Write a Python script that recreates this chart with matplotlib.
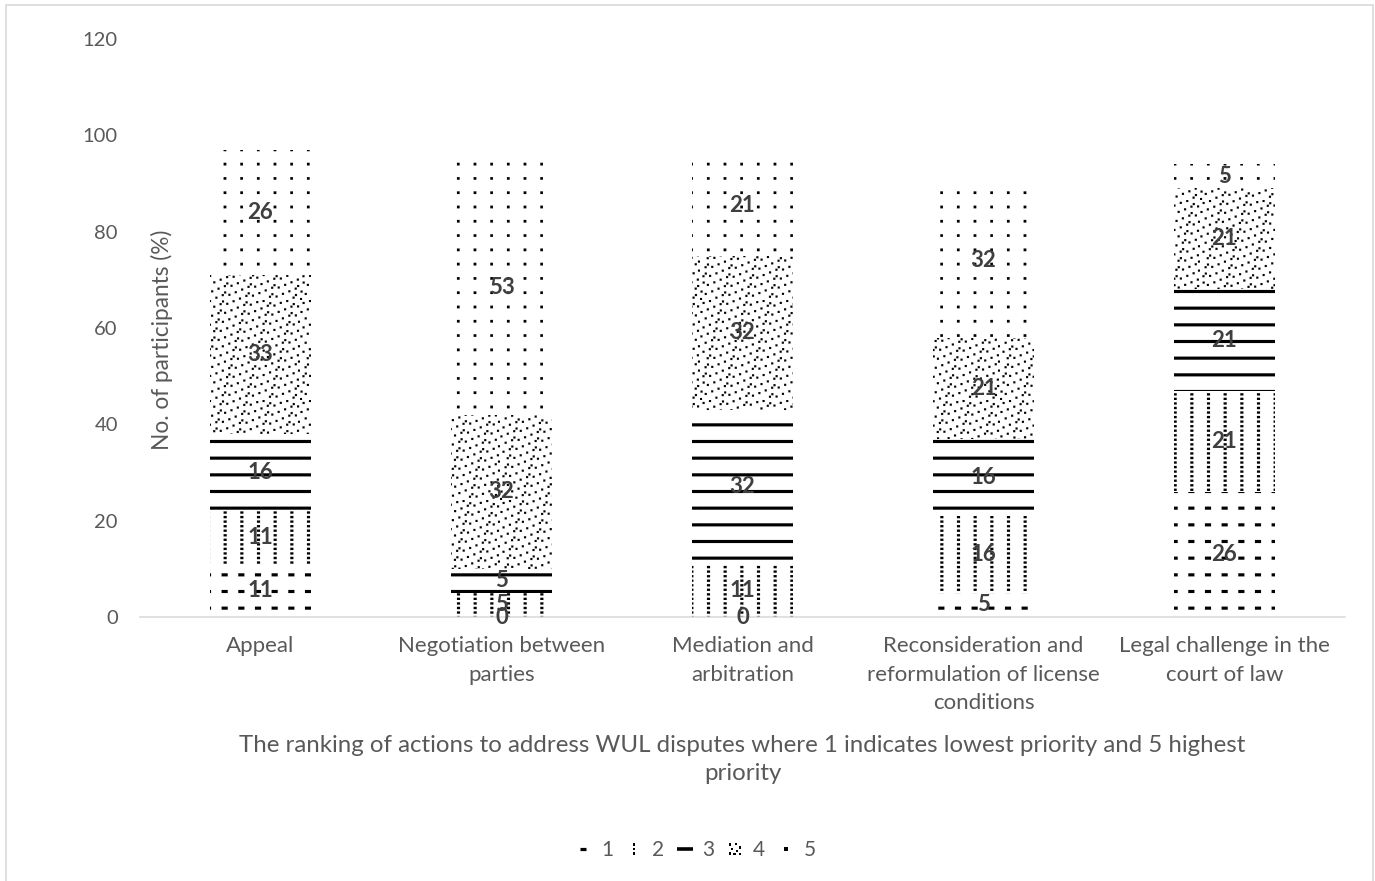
import warnings
import numpy as np
import matplotlib
matplotlib.use("Agg")
import matplotlib.pyplot as plt
import matplotlib.hatch as mhatch
from matplotlib.path import Path
from matplotlib.patches import Rectangle
from matplotlib.lines import Line2D

warnings.filterwarnings("ignore")

# ---------------------------------------------------------------- data
categories = [
    "Appeal",
    "Negotiation between\nparties",
    "Mediation and\narbitration",
    "Reconsideration and\nreformulation of license\nconditions",
    "Legal challenge in the\ncourt of law",
]
series_names = ["1", "2", "3", "4", "5"]
rank_1 = [11, 0, 0, 5, 26]
rank_2 = [11, 5, 11, 16, 21]
rank_3 = [16, 5, 32, 16, 21]
rank_4 = [33, 32, 32, 21, 21]
rank_5 = [26, 53, 21, 32, 5]
y_ticks = [0, 20, 40, 60, 80, 100, 120]

y_label = "No. of participants (%)"
x_title = ("The ranking of actions to address WUL disputes where 1 indicates lowest priority and 5 highest\n"
           "priority")

# ---------------------------------------------------------------- fill patterns
DPI = 100
CELL = float(DPI)          # one hatch tile is one inch = DPI pixels


def _square_codes(n):
    return np.tile([Path.MOVETO, Path.LINETO, Path.LINETO, Path.LINETO,
                    Path.CLOSEPOLY], n)


class _Motif(mhatch.HatchPatternBase):
    """A hatch made of small filled rectangles, given in tile pixels."""
    key = None
    rects = ()

    def __init__(self, hatch, density):
        self.num_vertices = 5 * len(self.rects) if (hatch and self.key in hatch) else 0

    def set_vertices_and_codes(self, vertices, codes):
        pts = []
        for x, y, w, h in self.rects:
            pts += [(x, y), (x + w, y), (x + w, y + h), (x, y + h), (x, y)]
        vertices[:] = np.asarray(pts, float) / CELL
        codes[:] = _square_codes(len(self.rects))


def register_motif(key, rects):
    cls = type(f"Motif_{key}", (_Motif,), {"key": key, "rects": tuple(rects)})
    mhatch._hatch_types.append(cls)


pitch6 = [i * CELL / 6 for i in range(6)]

# 1: short horizontal dashes
register_motif("a", [(x + 5, y + 7, 6, 3) for x in pitch6 for y in pitch6])
# 2: columns of fine dots
register_motif("b", [(x + 7, k * CELL / 22, 3, 2.2) for x in pitch6 for k in range(22)])
# 3: thick horizontal lines
register_motif("c", [(0, y + 7, CELL, 3) for y in pitch6])
# 4: confetti stipple on a periodic Fibonacci lattice with small offsets
stipple = []
n_pts, step = 233, 144
for i in range(n_pts):
    px = i * CELL / n_pts
    py = ((i * step) % n_pts) * CELL / n_pts
    px += ((i * 7) % 5 - 2) * 0.8
    py += ((i * 3) % 5 - 2) * 0.8
    stipple.append((min(max(px, 0), CELL - 2.0), min(max(py, 0), CELL - 2.0), 2.0, 2.0))
register_motif("d", stipple)
# 5: sparse dot grid
register_motif("e", [(x + 7, j * CELL / 7 + 6, 2.6, 2.6) for x in pitch6 for j in range(7)])

hatches = ["a", "b", "c", "d", "e"]

plt.rcParams["hatch.linewidth"] = 0.1
plt.rcParams["hatch.color"] = "black"
plt.rcParams["font.family"] = ["Lato", "DejaVu Sans"]

GREY = "#595959"
LABEL = "#3F3F3F"

# ---------------------------------------------------------------- figure
fig = plt.figure(figsize=(13.75, 8.81), dpi=DPI)
ax = fig.add_axes([140 / 1375, 1 - 617 / 881, 1205 / 1375, 578 / 881])

x = np.arange(len(categories))
series = [rank_1, rank_2, rank_3, rank_4, rank_5]
bottom = np.zeros(len(categories))
containers = []
for name, vals, h in zip(series_names, series, hatches):
    bc = ax.bar(x, vals, width=0.415, bottom=bottom, color="white",
                edgecolor="black", linewidth=0, hatch=h, label=name)
    containers.append(bc)
    bottom = bottom + np.asarray(vals, float)

for bc in containers:
    ax.bar_label(bc, label_type="center", fontsize=16, fontweight="bold",
                 color=LABEL)

ax.set_xlim(-0.5, len(categories) - 0.5)
ax.set_ylim(0, 120)
ax.set_yticks(y_ticks)
ax.set_xticks(x)
ax.set_xticklabels(categories, linespacing=1.53, fontsize=16)
ax.tick_params(axis="both", length=0, labelcolor=GREY)
ax.tick_params(axis="y", pad=16, labelsize=14.5)
ax.tick_params(axis="x", pad=14)

for side in ("top", "right", "left"):
    ax.spines[side].set_visible(False)
ax.spines["bottom"].set_color("#D9D9D9")
ax.spines["bottom"].set_linewidth(1.1)

ax.set_ylabel(y_label, fontsize=16.3, color=GREY)
ax.yaxis.set_label_coords(0.018, 0.48)
ax.yaxis.label.set_verticalalignment("center")

ax.set_xlabel(x_title, fontsize=17.3, color=GREY, linespacing=1.41)
ax.xaxis.set_label_coords(0.5, -0.247)
ax.xaxis.label.set_verticalalignment("center")


# ---------------------------------------------------------------- legend
def dots_path(centres, half):
    verts = []
    for cx, cy in centres:
        verts += [(cx - half, cy - half), (cx + half, cy - half),
                  (cx + half, cy + half), (cx - half, cy + half), (cx - half, cy - half)]
    return Path(np.array(verts), _square_codes(len(centres)))


mk2 = dots_path([(0, -1.1), (0, 0), (0, 1.1)], 0.32)
mk4 = dots_path([(-1, 0.9), (0.2, 1.0), (1, 0.3), (-0.6, 0.0), (0.4, -0.4),
                 (-1, -0.9), (1, -1.0), (-0.1, -1.0)], 0.22)
handles = [
    Line2D([], [], ls="none", marker="_", ms=3.8, mew=2.3, color="black"),
    Line2D([], [], ls="none", marker=mk2, ms=8, mew=0, color="black"),
    Line2D([], [], ls="none", marker="_", ms=11, mew=2.6, color="black"),
    Line2D([], [], ls="none", marker=mk4, ms=9, mew=0, color="black"),
    Line2D([], [], ls="none", marker="s", ms=2.2, mew=0, color="black"),
]
leg = ax.legend(handles, series_names, loc="center", ncol=5,
                bbox_to_anchor=((695 - 140) / 1205, (617 - 850) / 578),
                frameon=False, fontsize=15, handlelength=0.9,
                handletextpad=0.4, columnspacing=0.55, borderpad=0)
for t in leg.get_texts():
    t.set_color(GREY)

# outer chart frame
fig.patches.append(Rectangle((5.5 / 1375, -0.05), (1373 - 5.5) / 1375, 1.05 - 5.5 / 881,
                             transform=fig.transFigure, fill=False,
                             edgecolor="#D9D9D9", linewidth=1.2))

fig.savefig("out.png", dpi=DPI, facecolor="white")
